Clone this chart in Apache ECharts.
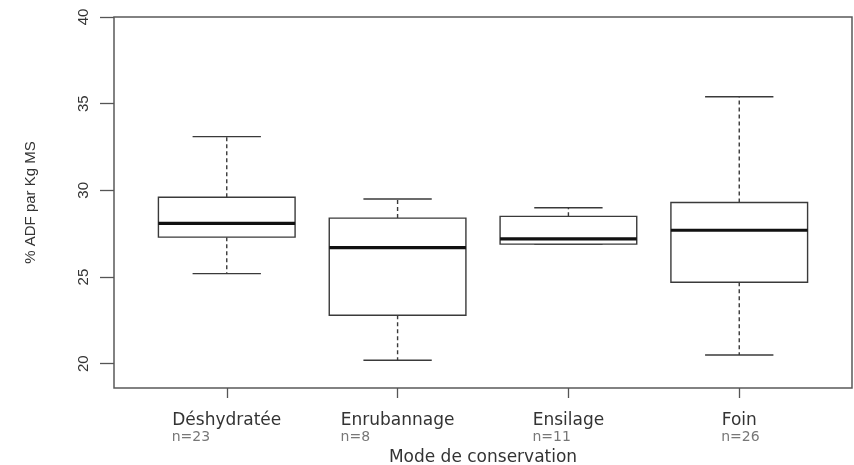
<!DOCTYPE html>
<html>
<head>
<meta charset="utf-8">
<script src="https://cdn.jsdelivr.net/npm/echarts@6/dist/echarts.min.js"></script>
<style>
html,body{margin:0;padding:0;background:#fff;}
#chart{width:854px;height:465px;}
</style>
</head>
<body>
<div id="chart"></div>
<script>
var categories = ['Déshydratée', 'Enrubannage', 'Ensilage', 'Foin'];
var counts = [23, 8, 11, 26];
var lowWhisker = [25.2, 20.2, 26.9, 20.5];
var q1 = [27.3, 22.8, 26.9, 24.7];
var median = [28.1, 26.7, 27.2, 27.7];
var q3 = [29.6, 28.4, 28.5, 29.3];
var highWhisker = [33.1, 29.5, 29.0, 35.4];
var yTicks = [20, 25, 30, 35, 40];
var xTicks = [1, 2, 3, 4];

var catFont = '17px "DejaVu Sans"';
var ctx = document.createElement('canvas').getContext('2d');
ctx.font = catFont;
var rich = {a: {fontSize: 17, fontFamily: 'DejaVu Sans', color: '#333', lineHeight: 16}};
categories.forEach(function (c, i) {
  rich['b' + i] = {
    fontSize: 14, fontFamily: 'DejaVu Sans', color: '#777', lineHeight: 16,
    width: Math.ceil(ctx.measureText(c).width), align: 'left'
  };
});

var boxData = categories.map(function (c, i) {
  return [i + 1, lowWhisker[i], q1[i], median[i], q3[i], highWhisker[i]];
});

var chart = echarts.init(document.getElementById('chart'), null, {renderer: 'canvas'});
chart.setOption({
  animation: false,
  backgroundColor: '#fff',
  grid: {left: 114, right: 2, top: 17, bottom: 77, show: true, borderColor: '#5a5a5a', borderWidth: 1.5, backgroundColor: 'transparent', containLabel: false, outerBoundsMode: 'none'},
  xAxis: {
    type: 'value', min: 0.34, max: 4.66,
    name: 'Mode de conservation', nameLocation: 'middle', nameGap: 61,
    nameTextStyle: {fontSize: 17, fontFamily: 'DejaVu Sans', color: '#333'},
    axisLine: {show: false},
    splitLine: {show: false},
    axisTick: {show: true, length: 10, customValues: xTicks, lineStyle: {color: '#555', width: 1.3}},
    axisLabel: {
      customValues: xTicks, margin: 25,
      formatter: function (v) {
        var i = Math.round(v) - 1;
        return '{a|' + categories[i] + '}\n{b' + i + '|n=' + counts[i] + '}';
      },
      rich: rich
    }
  },
  yAxis: {
    type: 'value', min: 18.6, max: 40,
    name: '% ADF par Kg MS', nameLocation: 'middle', nameGap: 76, nameRotate: 90,
    nameTextStyle: {fontSize: 15, fontFamily: 'Liberation Sans', color: '#333'},
    axisLine: {show: false},
    splitLine: {show: false},
    axisTick: {show: true, length: 14, customValues: yTicks, lineStyle: {color: '#555', width: 1.3}},
    axisLabel: {customValues: yTicks, rotate: 90, margin: 23, fontSize: 15, fontFamily: 'Liberation Sans', color: '#333'}
  },
  series: [{
    type: 'custom',
    data: boxData,
    encode: {x: 0, y: [1, 2, 3, 4, 5]},
    renderItem: function (params, api) {
      var x = api.value(0);
      var lo = api.coord([x, api.value(1)]);
      var b1 = api.coord([x, api.value(2)]);
      var md = api.coord([x, api.value(3)]);
      var b3 = api.coord([x, api.value(4)]);
      var hi = api.coord([x, api.value(5)]);
      var w = api.size([0.8, 0])[0];
      var cx = lo[0];
      var stroke = {stroke: '#3a3a3a', lineWidth: 1.4, fill: null};
      var dash = {stroke: '#3a3a3a', lineWidth: 1.4, lineDash: [4, 3]};
      return {
        type: 'group',
        children: [
          {type: 'line', shape: {x1: cx, y1: b3[1], x2: cx, y2: hi[1]}, style: dash},
          {type: 'line', shape: {x1: cx, y1: b1[1], x2: cx, y2: lo[1]}, style: dash},
          {type: 'line', shape: {x1: cx - w / 4, y1: hi[1], x2: cx + w / 4, y2: hi[1]}, style: stroke},
          {type: 'line', shape: {x1: cx - w / 4, y1: lo[1], x2: cx + w / 4, y2: lo[1]}, style: stroke},
          {type: 'rect', shape: {x: cx - w / 2, y: b3[1], width: w, height: b1[1] - b3[1]}, style: {stroke: '#3a3a3a', lineWidth: 1.4, fill: '#fff'}},
          {type: 'line', shape: {x1: cx - w / 2, y1: md[1], x2: cx + w / 2, y2: md[1]}, style: {stroke: '#111', lineWidth: 3.2}}
        ]
      };
    }
  }]
});
</script>
</body>
</html>
